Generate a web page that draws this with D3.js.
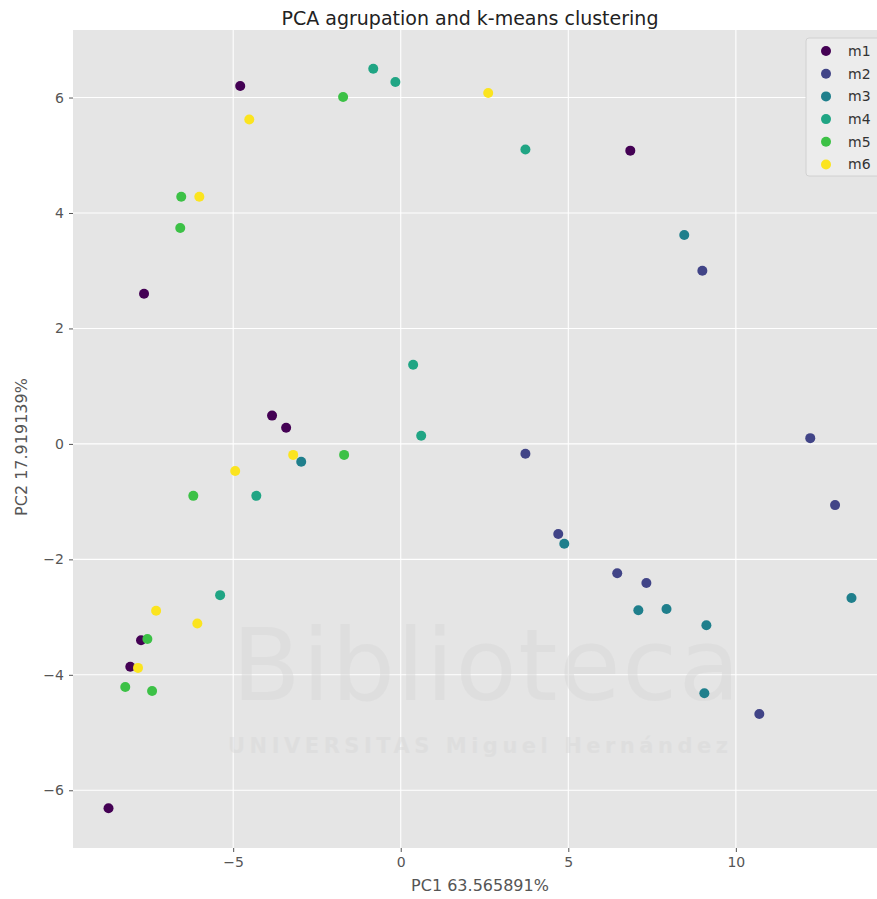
<!DOCTYPE html>
<html>
<head>
<meta charset="utf-8">
<script src="https://cdn.jsdelivr.net/npm/d3@7"></script>
<style>
  html, body { margin: 0; padding: 0; background: #ffffff; }
  svg { display: block; }
</style>
</head>
<body>
<svg id="chart" width="877" height="899"></svg>
<script>
// Cluster labels and their colours (viridis-like palette)
const groups = ["m1", "m2", "m3", "m4", "m5", "m6"];
const groupColors = ["#440154", "#414487", "#1f7f8c", "#20a584", "#3cc146", "#fbe41f"];

// PC1 / PC2 scores per group
const m1 = [[-4.79, 6.20], [6.85, 5.08], [-7.66, 2.60], [-3.84, 0.49], [-3.42, 0.28],
            [-7.75, -3.40], [-8.07, -3.86], [-8.72, -6.31]];
const m2 = [[9.00, 3.00], [3.72, -0.17], [12.22, 0.10], [12.96, -1.06], [4.70, -1.56],
            [6.46, -2.24], [7.33, -2.41], [10.70, -4.68]];
const m3 = [[8.46, 3.62], [4.88, -1.73], [7.09, -2.88], [7.93, -2.86], [9.12, -3.14],
            [13.45, -2.67], [9.06, -4.32], [-2.97, -0.31]];
const m4 = [[-0.82, 6.50], [-0.16, 6.27], [3.72, 5.10], [0.37, 1.37], [0.61, 0.14],
            [-4.31, -0.90], [-5.39, -2.62]];
const m5 = [[-1.72, 6.01], [-6.55, 4.28], [-6.58, 3.74], [-1.69, -0.19], [-6.19, -0.90],
            [-7.56, -3.38], [-8.22, -4.21], [-7.42, -4.28]];
const m6 = [[2.61, 6.08], [-4.52, 5.62], [-6.01, 4.28], [-3.21, -0.19], [-4.94, -0.47],
            [-7.30, -2.89], [-6.07, -3.11], [-7.84, -3.88]];
const seriesValues = [m1, m2, m3, m4, m5, m6];

const xTicks = [-5, 0, 5, 10];
const yTicks = [-6, -4, -2, 0, 2, 4, 6];

const titleText = "PCA agrupation and k-means clustering";
const xLabel = "PC1 63.565891%";
const yLabel = "PC2 17.919139%";

const svg = d3.select("#chart");
const margin = { left: 73, right: -10, top: 30, bottom: 51 };
const W = 877, H = 899;
const plotW = W - margin.left - margin.right;
const plotH = H - margin.top - margin.bottom;

const x = d3.scaleLinear().domain([-9.78, 14.51]).range([0, plotW]);
const y = d3.scaleLinear().domain([-7.0, 7.17]).range([plotH, 0]);

const color = d3.scaleOrdinal().domain(groups).range(groupColors);

const g = svg.append("g").attr("transform", `translate(${margin.left},${margin.top})`);

// panel background
g.append("rect").attr("width", plotW).attr("height", plotH).attr("fill", "#e5e5e5");

// grid lines
g.append("g").selectAll("line").data(xTicks).join("line")
  .attr("x1", d => x(d)).attr("x2", d => x(d))
  .attr("y1", 0).attr("y2", plotH)
  .attr("stroke", "#ffffff").attr("stroke-width", 1.1);
g.append("g").selectAll("line").data(yTicks).join("line")
  .attr("y1", d => y(d)).attr("y2", d => y(d))
  .attr("x1", 0).attr("x2", plotW)
  .attr("stroke", "#ffffff").attr("stroke-width", 1.1);

// axes
const xAxis = g.append("g").attr("transform", `translate(0,${plotH})`)
  .call(d3.axisBottom(x).tickValues(xTicks).tickSize(4).tickPadding(5)
    .tickFormat(d => d < 0 ? "\u2212" + Math.abs(d) : d));
const yAxis = g.append("g")
  .call(d3.axisLeft(y).tickValues(yTicks).tickSize(4).tickPadding(5)
    .tickFormat(d => d < 0 ? "\u2212" + Math.abs(d) : d));
[xAxis, yAxis].forEach(a => {
  a.select(".domain").remove();
  a.selectAll(".tick line").attr("stroke", "#555555");
  a.selectAll(".tick text").attr("fill", "#555555")
    .style("font-family", "DejaVu Sans, sans-serif").style("font-size", "14px");
});

// faint library watermark across the panel, beneath the points
const wm = svg.append("g").attr("opacity", 0.5).attr("pointer-events", "none");
wm.append("text").attr("x", 232).attr("y", 700)
  .style("font-family", "DejaVu Sans, sans-serif").style("font-size", "100px")
  .attr("fill", "#d9d9d9").attr("textLength", 508).text("Biblioteca");
wm.append("text").attr("x", 228).attr("y", 753)
  .style("font-family", "DejaVu Sans, sans-serif").style("font-size", "21px").style("font-weight", "bold")
  .attr("fill", "#d9d9d9").attr("textLength", 500).text("UNIVERSITAS Miguel Hernández");

// scatter points
const points = [];
seriesValues.forEach((vals, i) => vals.forEach(v => points.push({ g: groups[i], x: v[0], y: v[1] })));
const pointLayer = svg.append("g").attr("transform", `translate(${margin.left},${margin.top})`);
pointLayer.selectAll("circle").data(points).join("circle")
  .attr("cx", d => x(d.x)).attr("cy", d => y(d.y)).attr("r", 5)
  .attr("fill", d => color(d.g));

// legend
const leg = pointLayer.append("g").attr("transform", `translate(${806 - margin.left},${38 - margin.top})`);
leg.append("rect").attr("width", 80).attr("height", 138).attr("rx", 3)
  .attr("fill", "#ececec").attr("stroke", "#cccccc").attr("stroke-width", 0.8);
groups.forEach((name, i) => {
  const row = leg.append("g").attr("transform", `translate(0,${13 + i * 22.7})`);
  row.append("circle").attr("cx", 20).attr("cy", 0).attr("r", 5).attr("fill", color(name));
  row.append("text").attr("x", 42).attr("y", 0).attr("dy", "0.35em")
    .style("font-family", "DejaVu Sans, sans-serif").style("font-size", "14px")
    .attr("fill", "#333333").text(name);
});

// title and axis labels
svg.append("text").attr("x", 470).attr("y", 25).attr("text-anchor", "middle")
  .style("font-family", "DejaVu Sans, sans-serif").style("font-size", "19px")
  .attr("fill", "#222222").text(titleText);
svg.append("text").attr("x", 480).attr("y", 891).attr("text-anchor", "middle")
  .style("font-family", "DejaVu Sans, sans-serif").style("font-size", "16px")
  .attr("fill", "#555555").text(xLabel);
svg.append("text").attr("transform", `translate(27,${margin.top + plotH / 2 + 8}) rotate(-90)`)
  .attr("text-anchor", "middle")
  .style("font-family", "DejaVu Sans, sans-serif").style("font-size", "16px")
  .attr("fill", "#555555").text(yLabel);
</script>
</body>
</html>
